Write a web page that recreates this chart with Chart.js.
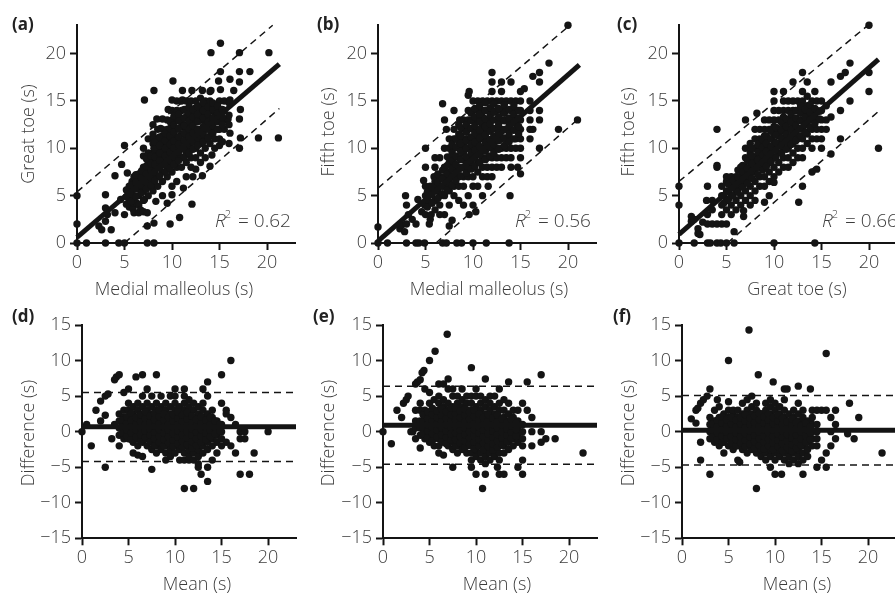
<!DOCTYPE html>
<html><head><meta charset="utf-8">
<script src="https://cdn.jsdelivr.net/npm/chart.js@4.4.1/dist/chart.umd.min.js"></script>
<style>
html,body{margin:0;padding:0;background:#fff;overflow:hidden;width:895px;height:596px;position:relative;}
canvas{position:absolute;}
</style></head><body>
<canvas id="ca" width="300" height="300" style="left:0;top:0"></canvas>
<canvas id="cb" width="300" height="300" style="left:301px;top:0"></canvas>
<canvas id="cc" width="300" height="300" style="left:602px;top:0"></canvas>
<canvas id="cd" width="300" height="296" style="left:0;top:300px"></canvas>
<canvas id="ce" width="300" height="296" style="left:301px;top:300px"></canvas>
<canvas id="cf" width="300" height="296" style="left:600px;top:300px"></canvas>
<script>
// ---------- data ----------
const topTicks = [0, 5, 10, 15, 20];
const diffTicks = [-15, -10, -5, 0, 5, 10, 15];
const rSquared = [0.62, 0.56, 0.66];

// scatter points, grouped as [x, [y, y, ...]]
const ptsA = [
[0,[0,2,5]],[1,[0]],[2.3,[1.8]],[2.6,[1.4]],[3,[0,2.3,3.7,5.1]],[3.2,[3]],[3.6,[1.4]],
[4,[3.2,7.1]],[4.4,[0]],[4.6,[4.6]],[4.7,[8.3]],[5,[0,3,10.3]],[5.3,[7.4]],[5.4,[4.8]],
[5.5,[3.8,4.5,5.3,6]],[5.8,[6.5]],[5.9,[3.6]],[6,[3.2,4.2,5,5.8,7]],[6.3,[4.2]],
[6.5,[3.2,4,5,5.8,6.5,7.3]],[6.7,[3.5,6]],[7,[3.3,4.5,5.5,6.3,7,8,9.2,10]],[7.1,[4.6,15.1]],
[7.4,[0,1.8,3.2,8.1]],[7.5,[5,6,7,7.8,8.5,9.5,11]],[7.9,[6]],[8,[5.5,6.5,7.3,8,8.8,9.5,10.5,11.5,12.5]],
[8.1,[0,2.1,10,11.1,16.1]],[8.3,[4.4]],[8.4,[13.1]],[8.5,[6,7,8,8.6,9.3,10,11,12]],[8.8,[12.1]],
[9,[5,6.5,7.5,8.3,9,9.7,10.5,11.3,12,13.1]],[9.5,[4.2,7,8,8.8,9.5,10.3,11,12,13]],[9.6,[14.1]],[9.8,[2]],
[10,[5.1,6,7.5,8.5,9.3,10,10.7,11.5,12.3,13,14,15.1]],[10.1,[17.1]],
[10.5,[6.5,8,9,9.8,10.5,11.2,12,13,14,15]],[10.8,[2.7]],[11,[8,9,10,10.8,11.5,12.3,13,14,15]],
[11.1,[15.1,16.1]],[11.2,[5.8]],[11.5,[7,8.5,9.5,10.3,11,11.8,12.5,13.3,14,15]],
[12,[8,9,10,10.8,11.5,12.3,13,14,15]],[12.1,[4.1,16.1]],[12.2,[7]],
[12.5,[7.8,9,10,11,12,12.8,13.5,14.3,15]],[13,[8.5,9.5,10.5,11.3,12,13,13.8,14.5,15.3]],
[13.2,[7.1,16.1]],[13.5,[9,10,11,12,12.8,13.5,14.3,15]],[14,[8.1,10.5,11.3,12,13,14,15,16]],
[14.1,[16.1,20.1]],[14.2,[9.3]],[14.5,[10,11,12,13,13.8,14.5]],[14.9,[17.1]],
[15,[10.3,11,12,13,14,15]],[15.1,[16.2,18.1,21.1]],[15.3,[10.7]],[15.5,[12,13,14,15]],[15.9,[13.1]],
[16,[10.5,12.5,13.5,14.8]],[16.1,[11.6,15.1,17.3]],[16.5,[16.1]],[17.1,[10,13.1,17,18.1,20.1]],
[17.2,[11.1,14.1]],[18.2,[18.1]],[19.1,[11.1]],[20.2,[20.1]],[21.2,[11.1]]
];
const coreA = [
[5.2,[4.1,4.9,5.6]],[5.7,[4.4,5.2,6.1]],[6.2,[4.9,5.7,6.4,7.2]],[6.8,[5.3,6.1,6.9,7.6]],
[7.3,[5.7,6.4,7.3,8.1,8.9]],[7.8,[6.1,6.9,7.7,8.4,9.2]],[8.2,[6.6,7.5,8.3,9.1,9.9,10.7]],
[8.7,[7.1,7.9,8.7,9.5,10.3,11.2]],[9.3,[7.5,8.3,9.2,10,10.8,11.6]],[9.8,[7.9,8.7,9.6,10.4,11.3,12.1,12.8]],
[10.2,[8.3,9.1,10,10.8,11.7,12.5,13.4]],[10.7,[8.7,9.6,10.4,11.2,12.1,12.9,13.6]],
[11.3,[9.1,9.9,10.8,11.6,12.4,13.2,14.1]],[11.8,[9.5,10.4,11.2,12,12.9,13.7,14.4]],
[12.2,[9.9,10.7,11.6,12.4,13.3,14.1]],[12.7,[10.3,11.1,12,12.8,13.6,14.4]],
[13.3,[10.7,11.5,12.3,13.2,14,14.8]],[13.8,[11.1,12,12.8,13.6,14.4]],[14.3,[11.6,12.4,13.2,14.1,14.8]],
[14.8,[12,12.8,13.7,14.5]],[15.3,[12.5,13.3,14.1]]
];
const ptsB = [
[0,[0,1.7]],[1,[0]],[2.3,[1.5]],[2.5,[1.9]],[2.8,[1.2]],[2.9,[5]],[3,[0,2,4]],[3.2,[3]],[3.6,[2.5]],
[4,[0,2]],[4.2,[4.6]],[4.3,[0]],[4.6,[3.3]],[4.8,[6.6]],[4.9,[0,4]],[5,[3,5,6,8,10]],[5.4,[2]],
[5.5,[2.5,4.3,5.3,6]],[5.6,[3]],[5.9,[7]],[6,[3.5,4.5,5.5,6.5,8,9]],[6.3,[6]],[6.5,[3,4,5,6,7,9]],
[6.8,[0,14.7]],[7,[3,5,6,7,8,10,13]],[7.2,[0,12]],[7.5,[1.8,4,5.5,6.5,7.5,8.5,10,11]],[7.6,[6]],[7.8,[2.4]],
[8,[5,6,7,8,9,10,11,12,14]],[8.3,[0]],[8.5,[4.5,6,7,8,9,10,10.7,11.5,12.5]],[8.6,[13]],[8.8,[0]],
[9,[4,6,7,8,8.8,9.5,10.3,11,12,13]],[9.5,[5,7,8,9,10,11,12,13,14,15.6]],[9.6,[3,16]],
[10,[0,4,6,7,8,9,10,11,12,13,14,15]],[10.3,[3.3]],[10.5,[6,7.5,8.5,9.5,10.5,11.3,12,13,14,15]],
[11,[5,7,8,9,10,11,11.7,12.5,13.3,14,15]],[11.4,[0]],[11.5,[7,8,9,10,11,12,13,14,15]],[11.6,[6]],
[12,[7,8,9,10,11,12,13,14,15,16,17,18]],[12.5,[8,9,10,11,12,13,14,15]],
[13,[8,9,10,11,12,13,14,15,16,17]],[13.5,[9,10,11,12,13,14,15]],[13.8,[0]],[13.9,[5]],
[14,[8,9,10,11,12,13,14,15,17]],[14.5,[10,11,12,13,14,15]],[14.7,[8]],
[15,[7.3,9,10,11,12,13,14,15,16]],[15.4,[16.3]],[16,[11,12,13,14,15]],[16.3,[12,17.6]],
[17,[10,13,14,17,18]],[18,[19]],[19,[12]],[20,[23]],[21,[13]]
];
const coreB = [
[5.2,[3.8,4.6,5.4]],[5.7,[4.2,5.1,5.9]],[6.3,[4.7,5.6,6.4,7.3]],[6.8,[5.2,6,6.8,7.7]],
[7.3,[5.6,6.4,7.3,8.2,9.1]],[7.8,[6.1,7,7.8,8.7,9.5,10.4]],[8.2,[6.6,7.4,8.3,9.2,10.1,11]],
[8.7,[7.1,7.9,8.8,9.7,10.5,11.3,12.2]],[9.3,[7.4,8.3,9.1,10,10.8,11.7,12.5]],
[9.8,[7.8,8.6,9.5,10.4,11.2,12.1,12.9,13.7]],[10.2,[8.1,9,9.8,10.7,11.6,12.4,13.3,14.2]],
[10.7,[8.5,9.3,10.2,11.1,11.9,12.8,13.6,14.5]],[11.3,[8.8,9.7,10.6,11.4,12.3,13.1,14,14.8]],
[11.8,[9.2,10.1,10.9,11.8,12.6,13.5,14.3]],[12.2,[9.5,10.4,11.3,12.1,13,13.8,14.7]],
[12.7,[9.9,10.8,11.6,12.5,13.3,14.2]],[13.3,[10.3,11.1,12,12.9,13.7,14.6]],
[13.8,[10.7,11.5,12.4,13.2,14.1]],[14.3,[11,11.9,12.7,13.6,14.5]],[14.8,[11.5,12.3,13.2,14]]
];
const ptsC = [
[0,[0,4,6]],[1.3,[2.3,2.8]],[1.6,[0,2.5]],[2,[1,1.5]],[2.2,[0.9]],[2.5,[2.2]],[2.9,[4.5]],
[3,[0,2,3,6]],[3.3,[0]],[3.5,[2,3.5,4.5]],[4,[0,2,8,8.2,12]],[4.4,[0]],[4.5,[2,3,4,5,6]],
[5,[0,2,3.5,4.5,5.5,6.5,7]],[5.5,[3,4,5,6,7]],[5.8,[0,1.2]],[6,[3.5,4.5,5.5,6,6.3,7]],
[6.5,[4,5,6,7,8]],[6.8,[2.8,3.4]],[7,[4.5,5.5,6.5,7.3,8,9,10,13]],[7.5,[4,5,6,7,8,8.7,9.5,10.5]],
[8,[4.5,5.5,6.5,7.5,8.3,9,10,11,12]],[8.2,[13.7]],[8.5,[6,7,8,8.8,9.5,10.3,11,12]],
[9,[4.3,6,7,8,9,9.7,10.5,11.3,12,13]],[9.5,[5,6.5,7.5,8.5,9.3,10,11,12,13]],
[10,[0,6.4,7,8,9,10,10.7,11.5,12.3,13,14,15,16]],[10.5,[7.5,8.5,9.5,10.5,11.3,12,13,14]],
[11,[8,9,10,11,11.8,12.5,13.3,14,15,16]],[11.5,[8,9,10,11,12,13,14,15]],
[12,[8.5,9.5,10.5,11.5,12.3,13,14,15,17]],[12.5,[9,10,11,12,13,14,15]],[12.6,[4.3]],
[13,[6,9,10,11,12,13,14,15,16,18]],[13.5,[10.5,11.5,12.5,13.5,14.5,15.5,17]],
[14,[7.5,10,11,12,13,14,15]],[14.3,[0,16]],[14.5,[7.8,11,12,13,14,15]],[15,[10,11,12,13,14,15]],
[15.5,[12,13,14.5]],[16,[9.4,13.3,17]],[17,[11,14,17.6]],[17.5,[18]],[18,[15,19]],[20,[16,18,23]],[21,[10]]
];
const coreC = [
[4.7,[4.2,5]],[5.2,[4.6,5.4,6.2]],[5.7,[5,5.8,6.6]],[6.2,[5.4,6.2,7,7.7]],[6.7,[5.9,6.7,7.5,8.2]],
[7.2,[6.3,7.1,7.9,8.7]],[7.7,[6.8,7.6,8.4,9.2,10]],[8.3,[7.2,8,8.8,9.6,10.4]],[8.8,[7.7,8.5,9.3,10.1,10.9]],
[9.2,[8.1,8.9,9.7,10.5,11.3]],[9.7,[8.6,9.4,10.2,11,11.8]],[10.2,[9,9.8,10.6,11.4,12.2]],
[10.8,[9.5,10.3,11.1,11.9,12.7]],[11.3,[9.9,10.7,11.5,12.3,13.1]],[11.8,[10.4,11.2,12,12.8,13.6]],
[12.3,[10.8,11.6,12.4,13.2,14]],[12.8,[11.3,12.1,12.9,13.7,14.5]],[13.3,[11.7,12.5,13.3,14.1]],
[13.8,[12.2,13,13.8,14.6]],[14.3,[12.6,13.4,14.2]],[14.8,[13.1,13.9]]
];
const ptsD = [
[0,[0]],[0.5,[1]],[1,[-2]],[1.5,[3]],[2,[1.5,4.3]],[2.5,[-5,2.3,5]],[2.8,[5.3]],[3.2,[-1]],[3.5,[1,7.3]],[3.7,[7.7]],
[4,[-2,-0.5,0.5,1.5,2.5,8]],[4.5,[-1,0,1,2,3,5.5]],[5,[-1,0,1,2,3,4,6]],[5.5,[-3,-1.5,-0.5,0.5,1.5,2.5,3.5]],
[5.8,[7.7]],[6,[-3.3,-2,-1,0,1,2,3,4]],[6.5,[-3.5,-1.5,-0.5,0.5,1.5,2.5,3.5,5,8]],[7,[-2,-1,0,1,2,3,4,6]],
[7.5,[-5.3,-2.5,-1.5,-0.5,0.5,1.5,2.5,3.5,5]],[8,[-3,-2,-1,0,1,2,3,4,8]],[8.5,[-2.5,-1.5,-0.5,0.5,1.5,2.5,3.5,5]],
[9,[-4,-3,-2,-1,0,1,2,3,4]],[9.5,[-3.5,-2.5,-1.5,-0.5,0.5,1.5,2.5,3.5,5]],[10,[-3,-2,-1,0,1,2,3,4,5,6]],
[10.5,[-4,-2.5,-1.5,-0.5,0.5,1.5,2.5,3.5]],[11,[-8,-4,-3,-2,-1,0,1,2,3,4,5,6]],
[11.5,[-4,-3.5,-2.5,-1.5,-0.5,0.5,1.5,2.5,3.5,4.5]],[12,[-8,-4,-3,-2,-1,0,1,2,3,4]],
[12.5,[-5,-4.5,-3.5,-2.5,-1.5,-0.5,0.5,1.5,2.5,3.5]],[12.8,[-6]],[13,[-3,-2,-1,0,1,2,3,4,6]],
[13.5,[-7,-5,-2.5,-1.5,-0.5,0.5,1.5,2.5,5,7]],[14,[-4,-2,-1,0,1,2,3]],[14.5,[-3,-1.5,-0.5,0.5,1.5]],
[15,[-2,-1,0,1,4,8]],[15.5,[-1.5,2.5,3]],[16,[-2,2,10]],[16.5,[-3,1]],[17,[-6,-1,0]],[17.5,[-1,0]],
[18,[-6]],[18.5,[-3]],[20,[0]]
];
const coreD = [
[4.3,[-0.2,0.7,1.6]],[4.8,[-0.6,0.3,1.2,2.1]],[5.3,[-1.1,-0.2,0.7,1.6,2.6]],[5.8,[-0.7,0.2,1.1,2]],
[6.3,[-1.3,-0.4,0.6,1.4,2.4]],[6.8,[-0.8,0.1,1,1.9,2.8]],[7.3,[-1.4,-0.5,0.4,1.3,2.2]],
[7.8,[-1.9,-1,-0.1,0.8,1.7,2.6]],[8.3,[-1.5,-0.6,0.3,1.2,2.1,3]],[8.8,[-2,-1.1,-0.2,0.7,1.6,2.5]],
[9.3,[-1.6,-0.7,0.2,1.1,2]],[9.8,[-2.1,-1.2,-0.3,0.6,1.5,2.4]],[10.3,[-1.7,-0.8,0.1,1,1.9,2.8]],
[10.8,[-2.2,-1.3,-0.4,0.5,1.4,2.3]],[11.3,[-1.8,-0.9,0,0.9,1.8,2.7]],[11.8,[-2.3,-1.4,-0.5,0.4,1.3,2.2]],
[12.3,[-1.9,-1,-0.1,0.8,1.7]],[12.8,[-1.5,-0.6,0.3,1.2,2.1]],[13.3,[-1.1,-0.2,0.7,1.6]],
[13.8,[-0.7,0.2,1.1,2]],[14.3,[-0.3,0.6,1.5]],[14.8,[0.1,1]]
];
const ptsE = [
[0,[0]],[0.9,[-1.7]],[1.5,[3]],[2,[2]],[2.2,[4]],[2.5,[4.5]],[2.7,[5]],[3,[0]],[3.2,[0]],
[3.5,[-1,0.5,1.5,3,6.7]],[3.7,[7]],[4,[-2.3,-0.5,0.5,1.5,3,4,7.3]],[4.2,[8.3]],[4.4,[8.6]],
[4.5,[-1,0,1,2,3,6]],[5,[-1.5,-0.5,0.5,1.5,2.5,4,5.5,10]],[5.5,[-2,-1,0,1,2,3,4.5]],[5.6,[11.3]],
[6,[-3,-2,-1,0,1,2,3,4,5,6.7]],[6.5,[-3.3,-1.5,-0.5,0.5,1.5,2.5,3.5,4.5,6.7]],[6.9,[13.7]],
[7,[-2,-1,0,1,2,3,4,6,7.4]],[7.5,[-5,-2.5,-1.5,-0.5,0.5,1.5,2.5,3.5,5,6]],[8,[-3,-2,-1,0,1,2,3,4,5]],
[8.5,[-2.5,-1.5,-0.5,0.5,1.5,2.5,3.5,4.5,6]],[9,[-3,-2,-1,0,1,2,3,4,5]],
[9.5,[-5,-4,-3,-2,-1,0,1,2,3,4,5,9]],[10,[-6,-3.5,-2.5,-1.5,-0.5,0.5,1.5,2.5,3.5,5,6]],
[10.5,[-4,-3,-2,-1,0,1,2,3,4,5]],[10.7,[-8]],[11,[-6,-4.5,-3.5,-2.5,-1.5,-0.5,0.5,1.5,2.5,3.5,4.5,7.4]],
[11.5,[-4,-3,-2,-1,0,1,2,3,4,5]],[12,[-3.5,-2.5,-1.5,-0.5,0.5,1.5,2.5,3.5,5]],[12.3,[-5]],
[12.5,[-6,-4,-3,-2,-1,0,1,2,3,4,6]],[13,[-6,-3,-2,-1,0,1,2,3,4.5]],[13.5,[-2.5,-1.5,-0.5,0.5,1.5,2.5,4,7]],
[14,[-2,-1,0,1,2,3]],[14.5,[-5,-1.5,-0.5,0.5,1.5,3]],[15,[-6,-4,-2,-1,0,1,4]],[15.5,[3,7]],
[16,[-2,0,2]],[17,[-1.5,0,8]],[17.5,[-1]],[18.5,[-1]],[21.5,[-3]]
];
const coreE = [
[4.3,[-0.3,0.6,1.5,2.4]],[4.8,[-0.8,0.1,1,1.9,2.8]],[5.3,[-1.2,-0.3,0.6,1.5,2.4,3.3]],
[5.8,[-0.7,0.2,1.1,2,2.9]],[6.3,[-1.3,-0.4,0.5,1.4,2.3,3.2]],[6.8,[-1.7,-0.8,0.1,1,1.9,2.8]],
[7.3,[-1.2,-0.3,0.6,1.5,2.4,3.3]],[7.8,[-2,-1.1,-0.2,0.7,1.6,2.5,3.4]],[8.3,[-1.6,-0.7,0.2,1.1,2,2.9]],
[8.8,[-2.2,-1.3,-0.4,0.5,1.4,2.3,3.2]],[9.3,[-1.8,-0.9,0,0.9,1.8,2.7]],[9.8,[-2.4,-1.5,-0.6,0.3,1.2,2.1,3]],
[10.3,[-2,-1.1,-0.2,0.7,1.6,2.5]],[10.8,[-2.5,-1.6,-0.7,0.2,1.1,2]],[11.3,[-2.1,-1.2,-0.3,0.6,1.5,2.4]],
[11.8,[-2.6,-1.7,-0.8,0.1,1,1.9]],[12.3,[-2.2,-1.3,-0.4,0.5,1.4,2.3]],[12.8,[-1.8,-0.9,0,0.9,1.8]],
[13.3,[-1.4,-0.5,0.4,1.3]],[13.8,[-1,-0.1,0.8,1.7]],[14.3,[-0.6,0.3,1.2]]
];
const ptsF = [
[1,[1.8]],[1.5,[1.2,3]],[1.7,[3.3]],[2,[-4,-1.5,4]],[2.3,[4.5]],[2.7,[5]],[3,[-6,-1,0,1,2,6]],
[3.5,[-1.5,-0.5,0.5,1.5,3]],[3.8,[4.5]],[4,[-2,-1,0,1,2,3.5]],[4.5,[-3,-1.5,-0.5,0.5,1.5,2.5]],
[5,[-2,-1,0,1,2,3,4.2,10]],[5.5,[-2.5,-1.5,-0.5,0.5,1.5,2.5,3]],[6,[-4,-2,-1,0,1,2,3]],[6.2,[-4.3]],
[6.5,[-2.5,-1.5,-0.5,0.5,1.5,2.5,4]],[7,[-3,-2,-1,0,1,2,3,4.5]],[7.2,[14.3]],
[7.5,[-2.5,-1.5,-0.5,0.5,1.5,2.5,3.5,5]],[8,[-8,-3,-2,-1,0,1,2,3,4]],[8.2,[8]],
[8.5,[-3.5,-2.5,-1.5,-0.5,0.5,1.5,2.5]],[9,[-4,-3,-2,-1,0,1,2,3,4]],
[9.5,[-5,-3.5,-2.5,-1.5,-0.5,0.5,1.5,2.5,3.5,4.5]],[9.8,[7]],[10,[-6,-4,-3,-2,-1,0,1,2,3,4]],
[10.5,[-3.5,-2.5,-1.5,-0.5,0.5,1.5,2.5,3.5]],[10.7,[-6]],[11,[-4,-3,-2,-1,0,1,2,3,4.5,6]],[11.3,[6]],
[11.5,[-4.5,-3.5,-2.5,-1.5,-0.5,0.5,1.5,2.5]],[12,[-4,-3,-2,-1,0,1,2,3]],
[12.5,[-4.5,-3.5,-2.5,-1.5,-0.5,0.5,1.5,2.5,4,6.4]],[13,[-6,-4,-3,-2,-1,0,1,2,3]],
[13.5,[-3.5,-2.5,-1.5,-0.5,0.5,1.5]],[13.8,[6]],[14,[-2,-1,0,1,2,3]],[14.5,[-5,-2,-1,0,1,3]],
[15,[-4,3]],[15.5,[-5,-3,3,11]],[16,[-2,0,2]],[16.5,[-1,1,3]],[17.8,[-0.3]],[18,[4]],[18.5,[-1]],[19,[2]],[21.5,[-3]]
];
const coreF = [
[3.3,[-0.7,0.2,1.1]],[3.8,[-1.1,-0.2,0.7,1.6]],[4.3,[-1.5,-0.6,0.3,1.2,2.1]],[4.8,[-1,-0.1,0.8,1.7]],
[5.3,[-1.6,-0.7,0.2,1.1,2]],[5.8,[-2,-1.1,-0.2,0.7,1.6]],[6.3,[-1.6,-0.7,0.2,1.1,2]],
[6.8,[-2.1,-1.2,-0.3,0.6,1.5,2.4]],[7.3,[-1.7,-0.8,0.1,1,1.9]],[7.8,[-2.3,-1.4,-0.5,0.4,1.3,2.2]],
[8.3,[-1.9,-1,-0.1,0.8,1.7,2.6]],[8.8,[-2.4,-1.5,-0.6,0.3,1.2,2.1]],[9.3,[-2,-1.1,-0.2,0.7,1.6,2.5]],
[9.8,[-2.5,-1.6,-0.7,0.2,1.1,2]],[10.3,[-2.1,-1.2,-0.3,0.6,1.5,2.4]],[10.8,[-2.6,-1.7,-0.8,0.1,1,1.9]],
[11.3,[-2.2,-1.3,-0.4,0.5,1.4]],[11.8,[-2.7,-1.8,-0.9,0,0.9,1.8]],[12.3,[-2.3,-1.4,-0.5,0.4,1.3]],
[12.8,[-1.9,-1,-0.1,0.8]],[13.3,[-1.5,-0.6,0.3,1.2]],[13.8,[-1.1,-0.2,0.7]]
];

// fitted / limit lines, [x, y] end points
const fitA = [[0,0.6],[21.3,18.9]], upA = [[0,5.4],[20.6,23]], loA = [[5,0],[21.3,14.2]];
const fitB = [[0,0.2],[21.2,18.8]], upB = [[0,5.8],[20.2,23]], loB = [[6.1,0],[21.2,13.2]];
const fitC = [[0,0.9],[21,19.4]],   upC = [[0,6.5],[19.9,23]], loC = [[5.1,0],[21,13.9]];
const meanD = [[0,0.7],[23,0.7]], upD = [[0,5.5],[23,5.5]], loD = [[0,-4.2],[23,-4.2]];
const meanE = [[0,0.9],[23,0.9]], upE = [[0,6.4],[23,6.4]], loE = [[0,-4.6],[23,-4.6]];
const meanF = [[0,0.2],[23,0.2]], upF = [[0,5.1],[23,5.1]], loF = [[0,-4.7],[23,-4.7]];

// ---------- drawing ----------
const INK = '#141414';
const TXT = '#3c3c3c';
const FAM = '"Open Sans", "Noto Sans", sans-serif';
const toPts = (...groups) => groups.flatMap(cols => cols.flatMap(([x, ys]) => ys.map(y => ({x, y}))));
const toLine = arr => arr.map(([x, y]) => ({x, y}));
const fmt = v => v < 0 ? '\u2212' + Math.abs(v) : String(v);

const textPlugin = {
  id: 'panelText',
  afterDraw(chart, args, o) {
    const ctx = chart.ctx;
    ctx.save();
    ctx.fillStyle = '#222';
    ctx.font = `bold 17px ${FAM}`;
    ctx.textAlign = 'left'; ctx.textBaseline = 'middle';
    ctx.fillText(o.letter, o.lx, o.ly);
    ctx.fillStyle = TXT;
    ctx.font = `300 18px ${FAM}`;
    ctx.textAlign = 'center';
    ctx.fillText(o.xt, o.xtx, o.xty);
    ctx.save();
    ctx.translate(o.ytx, o.yty); ctx.rotate(-Math.PI / 2);
    ctx.fillText(o.yt, 0, 0);
    ctx.restore();
    if (o.r2 !== undefined) {
      ctx.textAlign = 'left'; ctx.textBaseline = 'alphabetic';
      ctx.font = `italic 300 19px ${FAM}`;
      ctx.fillText('R', o.rx, o.ry);
      const wR = ctx.measureText('R').width;
      ctx.font = `300 11px ${FAM}`;
      ctx.fillText('2', o.rx + wR - 1, o.ry - 9);
      const w2 = ctx.measureText('2').width;
      ctx.font = `300 19px ${FAM}`;
      ctx.fillText('= ' + o.r2.toFixed(2), o.rx + wR + w2 + 6, o.ry);
    }
    ctx.restore();
  }
};

function axis(min, max, ticks, fitKey, fitVal) {
  return {
    type: 'linear', min, max,
    afterBuildTicks: s => { s.ticks = ticks.map(v => ({value: v})); },
    afterFit: s => { s[fitKey] = fitVal; },
    grid: {drawOnChartArea: false, drawTicks: true, tickLength: 7, tickWidth: 2, color: INK},
    border: {display: true, color: INK, width: 2},
    ticks: {color: TXT, padding: fitKey === 'width' ? 4 : 2, font: {family: FAM, size: 18, weight: '300'},
            callback: v => fmt(v), autoSkip: false, maxRotation: 0}
  };
}

function panel(id, p) {
  new Chart(document.getElementById(id), {
    type: 'scatter',
    data: {datasets: [
      {data: toLine(p.fit), showLine: true, borderColor: INK, borderWidth: 5, pointRadius: 0, clip: false},
      {data: toLine(p.up), showLine: true, borderColor: INK, borderWidth: 1.5, borderDash: [7, 5], pointRadius: 0, clip: false},
      {data: toLine(p.lo), showLine: true, borderColor: INK, borderWidth: 1.5, borderDash: [7, 5], pointRadius: 0, clip: false},
      {data: toPts(p.pts, p.core), pointRadius: 3.7, pointBackgroundColor: INK, pointBorderWidth: 0, clip: false}
    ]},
    options: {
      responsive: false, animation: false, events: [],
      layout: {padding: {left: 0, right: p.padR, top: p.padT, bottom: 0}},
      plugins: {legend: {display: false}, tooltip: {enabled: false}, panelText: p.text},
      scales: {
        x: axis(0, 23, topTicks, 'height', p.xH),
        y: axis(p.ymin, p.ymax, p.yTicks, 'width', p.yW)
      }
    },
    plugins: [textPlugin]
  });
}

const topRow = {ymin: 0, ymax: 23, yTicks: topTicks, padT: 25.2, padR: 4.5, xH: 57, yW: 77};
const botRow = {ymin: -15, ymax: 15, yTicks: diffTicks, padT: 25, padR: 2.5, xH: 57.7, yW: 82};

panel('ca', {...topRow, pts: ptsA, core: coreA, fit: fitA, up: upA, lo: loA,
  text: {letter: '(a)', lx: 12, ly: 25, xt: 'Medial malleolus (s)', xtx: 174, xty: 290, yt: 'Great toe (s)', ytx: 29, yty: 134, r2: rSquared[0], rx: 215, ry: 227}});
panel('cb', {...topRow, pts: ptsB, core: coreB, fit: fitB, up: upB, lo: loB,
  text: {letter: '(b)', lx: 16, ly: 25, xt: 'Medial malleolus (s)', xtx: 188, xty: 290, yt: 'Fifth toe (s)', ytx: 28, yty: 132, r2: rSquared[1], rx: 214, ry: 227}});
panel('cc', {...topRow, pts: ptsC, core: coreC, fit: fitC, up: upC, lo: loC,
  text: {letter: '(c)', lx: 15, ly: 25, xt: 'Great toe (s)', xtx: 195, xty: 290, yt: 'Fifth toe (s)', ytx: 27, yty: 132, r2: rSquared[2], rx: 220, ry: 227}});
panel('cd', {...botRow, pts: ptsD, core: coreD, fit: meanD, up: upD, lo: loD,
  text: {letter: '(d)', lx: 12, ly: 17.5, xt: 'Mean (s)', xtx: 197, xty: 285, yt: 'Difference (s)', ytx: 28.5, yty: 133}});
panel('ce', {...botRow, pts: ptsE, core: coreE, fit: meanE, up: upE, lo: loE,
  text: {letter: '(e)', lx: 12, ly: 17.5, xt: 'Mean (s)', xtx: 196, xty: 285, yt: 'Difference (s)', ytx: 28, yty: 133}});
panel('cf', {...botRow, pts: ptsF, core: coreF, fit: meanF, up: upF, lo: loF,
  text: {letter: '(f)', lx: 13, ly: 17.5, xt: 'Mean (s)', xtx: 197, xty: 285, yt: 'Difference (s)', ytx: 29, yty: 133}});
</script>
</body></html>
